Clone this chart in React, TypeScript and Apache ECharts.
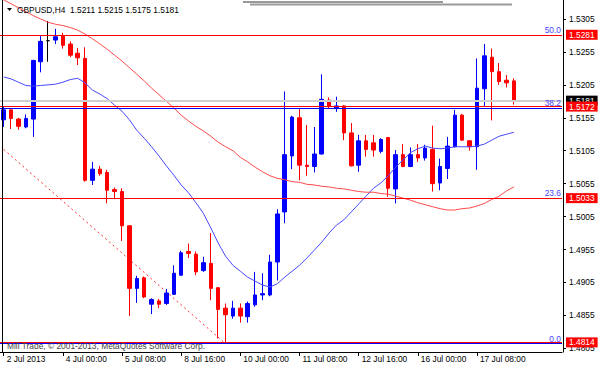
import React, { useEffect, useRef } from "react";
import * as echarts from "echarts";

// ---- data (GBPUSD H4) ----
const opens = [
  1.5152, 1.5167, 1.5153, 1.5141, 1.5153, 1.5240, 1.5272, 1.5273, 1.5279, 1.5267,
  1.5253, 1.5245, 1.5060, 1.5077, 1.5072, 1.5046, 1.5043, 1.4991, 1.4896, 1.4912,
  1.4872, 1.4877, 1.4873, 1.4887, 1.4916, 1.4952, 1.4948, 1.4923, 1.4934, 1.4897,
  1.4866, 1.4854, 1.4866, 1.4853, 1.4871, 1.4886, 1.4886, 1.4936, 1.5012, 1.5097,
  1.5155, 1.5083, 1.5081, 1.5100, 1.5182, 1.5170, 1.5173, 1.5132, 1.5083, 1.5120,
  1.5117, 1.5104, 1.5125, 1.5047, 1.5099, 1.5081, 1.5099, 1.5094, 1.5107, 1.5056,
  1.5078, 1.5111, 1.5159, 1.5120, 1.5111, 1.5199, 1.5247, 1.5225, 1.5212, 1.5211,
];
const highs = [
  1.5172, 1.5169, 1.5155, 1.5160, 1.5243, 1.5279, 1.5302, 1.5290, 1.5284, 1.5271,
  1.5261, 1.5262, 1.5088, 1.5082, 1.5076, 1.5049, 1.5048, 1.4992, 1.4915, 1.4914,
  1.4881, 1.4880, 1.4895, 1.4931, 1.4953, 1.4964, 1.4952, 1.4944, 1.4980, 1.4898,
  1.4873, 1.4877, 1.4873, 1.4876, 1.4921, 1.4919, 1.4947, 1.5016, 1.5195, 1.5158,
  1.5169, 1.5144, 1.5141, 1.5221, 1.5186, 1.5187, 1.5174, 1.5147, 1.5129, 1.5129,
  1.5129, 1.5124, 1.5126, 1.5106, 1.5115, 1.5110, 1.5115, 1.5114, 1.5143, 1.5093,
  1.5126, 1.5167, 1.5161, 1.5121, 1.5245, 1.5267, 1.5260, 1.5238, 1.5220, 1.5215,
];
const lows = [
  1.5141, 1.5138, 1.5137, 1.5139, 1.5126, 1.5224, 1.5240, 1.5267, 1.5260, 1.5247,
  1.5235, 1.5058, 1.5053, 1.5067, 1.5025, 1.5033, 1.4968, 1.4854, 1.4874, 1.4881,
  1.4857, 1.4866, 1.4871, 1.4886, 1.4915, 1.4942, 1.4916, 1.4921, 1.4878, 1.4820,
  1.4814, 1.4850, 1.4844, 1.4844, 1.4868, 1.4878, 1.4884, 1.4908, 1.4995, 1.5077,
  1.5060, 1.5067, 1.5072, 1.5099, 1.5169, 1.5164, 1.5121, 1.5081, 1.5073, 1.5096,
  1.5096, 1.5101, 1.5035, 1.5025, 1.5080, 1.5080, 1.5088, 1.5090, 1.5043, 1.5045,
  1.5062, 1.5110, 1.5120, 1.5105, 1.5076, 1.5172, 1.5151, 1.5205, 1.5201, 1.5175,
];
const closes = [
  1.5167, 1.5154, 1.5142, 1.5154, 1.5242, 1.5271, 1.5272, 1.5278, 1.5265, 1.5250,
  1.5246, 1.5060, 1.5077, 1.5070, 1.5045, 1.5043, 1.4991, 1.4896, 1.4911, 1.4883,
  1.4879, 1.4872, 1.4889, 1.4919, 1.4950, 1.4949, 1.4921, 1.4935, 1.4896, 1.4864,
  1.4856, 1.4866, 1.4854, 1.4873, 1.4886, 1.4888, 1.4936, 1.5009, 1.5099, 1.5156,
  1.5083, 1.5081, 1.5100, 1.5183, 1.5172, 1.5173, 1.5132, 1.5082, 1.5120, 1.5107,
  1.5106, 1.5122, 1.5048, 1.5099, 1.5081, 1.5099, 1.5094, 1.5109, 1.5055, 1.5081,
  1.5112, 1.5159, 1.5121, 1.5111, 1.5200, 1.5249, 1.5225, 1.5210, 1.5208, 1.5181,
];
// moving averages
const maFast = [
  1.5217, 1.5214, 1.5209, 1.5204, 1.5203, 1.5204, 1.5205, 1.5206, 1.5209, 1.5213,
  1.5215, 1.5208, 1.5197, 1.5191, 1.5184, 1.5174, 1.5165, 1.5152, 1.5136, 1.5124,
  1.5111, 1.5097, 1.5082, 1.5068, 1.5053, 1.5041, 1.5026, 1.5010, 1.4988, 1.4965,
  1.4945, 1.4931, 1.4922, 1.4913, 1.4907, 1.4901, 1.4898, 1.4903, 1.4913, 1.4922,
  1.4931, 1.4942, 1.4954, 1.4966, 1.4980, 1.4992, 1.5000, 1.5012, 1.5024, 1.5036,
  1.5048, 1.5056, 1.5067, 1.5080, 1.5091, 1.5102, 1.5108, 1.5112, 1.5109, 1.5108,
  1.5109, 1.5111, 1.5111, 1.5111, 1.5112, 1.5115, 1.5121, 1.5127, 1.5130, 1.5133,
];
const maSlow = [
  1.5334, 1.5328, 1.5322, 1.5316, 1.5310, 1.5305, 1.5300, 1.5297, 1.5295, 1.5292,
  1.5288, 1.5282, 1.5275, 1.5267, 1.5259, 1.5250, 1.5241, 1.5231, 1.5221, 1.5211,
  1.5200, 1.5190, 1.5180, 1.5170, 1.5159, 1.5150, 1.5142, 1.5135, 1.5127, 1.5118,
  1.5111, 1.5105, 1.5095, 1.5088, 1.5080, 1.5073, 1.5067, 1.5063, 1.5061, 1.5058,
  1.5057, 1.5054, 1.5053, 1.5051, 1.5050, 1.5048, 1.5047, 1.5045, 1.5043, 1.5042,
  1.5042, 1.5040, 1.5039, 1.5036, 1.5033, 1.5030, 1.5026, 1.5023, 1.5020, 1.5017,
  1.5015, 1.5015, 1.5017, 1.5018, 1.5021, 1.5025, 1.5031, 1.5036, 1.5044, 1.5050,
];
// Fibonacci object: dashed base line from (bar 0, 1.5107) to (bar 30, 1.4812)
const trendIndex = [0, 30];
const trendPrice = [1.5107, 1.4812];
const fibPrices = [1.5281, 1.5170, 1.5033, 1.4812];
const fibLabels = ["50.0", "38.2", "23.6", "0.0"];
// horizontal lines with price tags
const hLinePrices = [1.5281, 1.5172, 1.5033, 1.4814];
const bidPrice = 1.5181;
// axis ticks
const yTickValues = [1.4805, 1.4855, 1.4905, 1.4955, 1.5005, 1.5055, 1.5105, 1.5155, 1.5205, 1.5255, 1.5305];
const xTickLabels = ["2 Jul 2013", "4 Jul 00:00", "5 Jul 08:00", "8 Jul 16:00", "10 Jul 00:00", "11 Jul 08:00", "12 Jul 16:00", "16 Jul 00:00", "17 Jul 08:00"];
const BARS_PER_LABEL = 8;
const SLOT_COUNT = 76;
const TITLE = "GBPUSD,H4  1.5211 1.5215 1.5175 1.5181";
const COPYRIGHT = "Mill Trade, \u00A9 2001-2013, MetaQuotes Software Corp.";

const MONTHS = ["Jan", "Feb", "Mar", "Apr", "May", "Jun", "Jul", "Aug", "Sep", "Oct", "Nov", "Dec"];
function buildBarTimes(count: number): string[] {
  const out: string[] = [];
  let t = Date.UTC(2013, 6, 2, 16);
  while (out.length < count) {
    const d = new Date(t);
    const wd = d.getUTCDay();
    if (wd !== 0 && wd !== 6) {
      const hh = String(d.getUTCHours()).padStart(2, "0");
      out.push(`${d.getUTCDate()} ${MONTHS[d.getUTCMonth()]} ${hh}:00`);
    }
    t += 4 * 3600 * 1000;
  }
  return out;
}

const FONT = "'Liberation Sans', Arial, sans-serif";
const FS = 8.4;

export default function App() {
  const ref = useRef<HTMLDivElement>(null);
  useEffect(() => {
    if (!ref.current) return;
    const chart = echarts.init(ref.current, undefined, { renderer: "svg" });
    const categories = buildBarTimes(SLOT_COUNT);
    const barCount = opens.length;
    const candles = opens.map((o, i) => {
      const v = [o, closes[i], lows[i], highs[i]];
      if (o === closes[i]) {
        return { value: v, itemStyle: { color: "#000", color0: "#000", borderColor: "#000", borderColor0: "#000" } };
      }
      return v;
    });
    const trend: (number | null)[] = categories.map(() => null);
    trendIndex.forEach((idx, k) => (trend[idx] = trendPrice[k]));
    const showIdx = (index: number) => index % BARS_PER_LABEL === 0 && index < barCount;

    const markData: any[] = [];
    markData.push({
      yAxis: bidPrice,
      lineStyle: { color: "#cfcfcf", width: 2, type: "solid" },
      label: {
        show: true, position: "end", distance: 4, formatter: bidPrice.toFixed(4),
        backgroundColor: "#000", color: "#fff", padding: [1, 3, 1, 3], fontSize: FS, fontFamily: FONT,
      },
    });
    fibPrices.forEach((p, k) => {
      markData.push({
        yAxis: p,
        lineStyle: { color: "#0000ff", width: 1, type: "solid" },
        label: {
          show: true, position: "insideEndTop", distance: [1, 1], formatter: fibLabels[k],
          color: "#4646ff", fontSize: FS, fontFamily: FONT,
        },
      });
    });
    hLinePrices.forEach((p) => {
      markData.push({
        yAxis: p,
        lineStyle: { color: "#ff0000", width: 1, type: "solid" },
        label: {
          show: true, position: "end", distance: 4, formatter: p.toFixed(4),
          backgroundColor: "#ff0000", color: "#fff", padding: [1, 3, 1, 3], fontSize: FS, fontFamily: FONT,
        },
      });
    });

    chart.setOption({
      animation: false,
      backgroundColor: "#ffffff",
      grid: { left: -0.7, right: 38, top: 0, bottom: 17 },
      xAxis: {
        type: "category",
        data: categories,
        boundaryGap: true,
        axisLine: { show: true, lineStyle: { color: "#000", width: 1 } },
        axisTick: { show: true, alignWithLabel: true, interval: (i: number) => showIdx(i), length: 4, lineStyle: { color: "#000" } },
        axisLabel: {
          show: true,
          interval: (i: number) => showIdx(i),
          formatter: (_v: string, i: number) => (showIdx(i) ? xTickLabels[i / BARS_PER_LABEL] ?? "" : ""),
          align: "left",
          padding: [0, 0, 0, 3],
          margin: 3,
          color: "#000",
          fontSize: FS,
          fontFamily: FONT,
        },
        splitLine: { show: false },
      },
      yAxis: {
        type: "value",
        position: "right",
        offset: 1,
        scale: true,
        min: 1.47994,
        max: 1.53338,
        splitLine: { show: false },
        axisLine: { show: true, lineStyle: { color: "#000", width: 1 } },
        axisTick: { show: true, customValues: yTickValues, length: 3, lineStyle: { color: "#000" } },
        axisLabel: {
          show: true, customValues: yTickValues, formatter: (v: number) => v.toFixed(4),
          margin: 6, color: "#000", fontSize: FS, fontFamily: FONT,
        },
      },
      series: [
        {
          type: "candlestick",
          data: candles,
          barWidth: 4,
          itemStyle: { color: "#0000ff", color0: "#ff0000", borderColor: "#0000ff", borderColor0: "#ff0000", borderWidth: 1 },
          z: 3,
        },
        {
          type: "line",
          data: maFast,
          showSymbol: false,
          symbol: "none",
          lineStyle: { color: "#4848ff", width: 1 },
          z: 4,
        },
        {
          type: "line",
          data: maSlow,
          showSymbol: false,
          symbol: "none",
          lineStyle: { color: "#ff4a4a", width: 1 },
          z: 4,
        },
        {
          type: "line",
          data: trend,
          connectNulls: true,
          showSymbol: false,
          symbol: "none",
          lineStyle: { color: "#ff3030", width: 1, type: [2, 3] },
          z: 2,
          markLine: {
            silent: true,
            symbol: ["none", "none"],
            precision: 4,
            data: markData,
          },
        },
      ],
      graphic: [
        { type: "line", shape: { x1: 2.5, y1: 0, x2: 2.5, y2: 352 }, style: { stroke: "#000", lineWidth: 1 }, z: 10 },
        { type: "line", shape: { x1: 243, y1: 2, x2: 443, y2: 2 }, style: { stroke: "#333", lineWidth: 1 }, z: 10 },
        { type: "line", shape: { x1: 250, y1: 4.5, x2: 512, y2: 4.5 }, style: { stroke: "#9a9a9a", lineWidth: 2 }, z: 10 },
        { type: "polygon", shape: { points: [[7, 8], [12, 8], [9.5, 11]] }, style: { fill: "#000" }, z: 10 },
        {
          type: "text", x: 17, y: 9.5, z: 10,
          style: { text: TITLE, fill: "#000", fontSize: FS, fontFamily: FONT, verticalAlign: "middle", align: "left" },
        },
        {
          type: "text", x: 7, y: 346, z: 10,
          style: { text: COPYRIGHT, fill: "#444", fontSize: FS, fontFamily: FONT, verticalAlign: "middle", align: "left" },
        },
      ],
    });
    return () => chart.dispose();
  }, []);
  return <div ref={ref} style={{ position: "fixed", left: 0, top: 0, width: 600, height: 369 }} />;
}
